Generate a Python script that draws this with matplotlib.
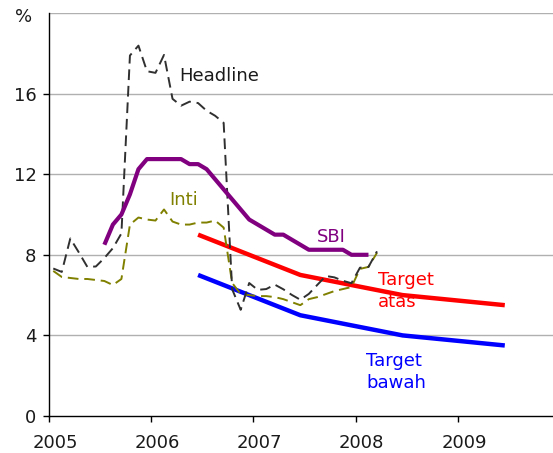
import matplotlib
matplotlib.use("Agg")
import matplotlib.pyplot as plt
import matplotlib.transforms as mtransforms
import numpy as np

# Monthly series, Jan 2005 onward (values in %)
headline = [7.32, 7.15, 8.81, 8.12, 7.40, 7.42, 7.84, 8.33, 9.06, 17.89, 18.38, 17.11,
            17.03, 17.92, 15.74, 15.40, 15.60, 15.53, 15.15, 14.90, 14.55, 6.29, 5.27, 6.60,
            6.26, 6.30, 6.52, 6.29, 6.01, 5.77, 6.06, 6.51, 6.95, 6.88, 6.71, 6.59,
            7.36, 7.40, 8.17]
inti = [7.20, 6.90, 6.85, 6.80, 6.80, 6.75, 6.70, 6.50, 6.80, 9.50, 9.85, 9.75,
        9.70, 10.25, 9.65, 9.50, 9.50, 9.60, 9.60, 9.70, 9.35, 6.60, 6.05, 6.00,
        5.95, 5.95, 5.90, 5.80, 5.65, 5.50, 5.80, 5.90, 6.05, 6.20, 6.30, 6.40,
        7.30, 7.40, 8.10]
# SBI rate, Jul 2005 onward
sbi = [8.50, 9.50, 10.00, 11.00, 12.25, 12.75,
       12.75, 12.75, 12.75, 12.75, 12.50, 12.50, 12.25, 11.75, 11.25, 10.75, 10.25, 9.75,
       9.50, 9.25, 9.00, 9.00, 8.75, 8.50, 8.25, 8.25, 8.25, 8.25, 8.25, 8.00,
       8.00, 8.00]
# Inflation targets (mid-year)
target_years = [2006, 2007, 2008, 2009]
target_atas = [9.0, 7.0, 6.0, 5.5]
target_bawah = [7.0, 5.0, 4.0, 3.5]

xticks = [2005, 2006, 2007, 2008, 2009]
yticks = [0, 4, 8, 12, 16]

def month_pos(start_year, start_month, n):
    return [start_year + (start_month - 1 + i + 0.5) / 12.0 for i in range(n)]

x_head = month_pos(2005, 1, len(headline))
x_inti = month_pos(2005, 1, len(inti))
x_sbi = month_pos(2005, 7, len(sbi))
x_tgt = [y + 5.5 / 12.0 for y in target_years]

fig = plt.figure(figsize=(5.53, 4.53), dpi=100)
ax = fig.add_axes([49 / 553, 37 / 453, 1 - 49 / 553, 403 / 453])

ax.set_xlim(2005, 2009.93)
ax.set_ylim(0, 20)

for g in [4, 8, 12, 16, 20]:
    ax.axhline(g, color='#b0b0b0', lw=1.0, zorder=0)

ax.plot(x_tgt, target_atas, color='#ff0000', lw=3.2, solid_capstyle='butt', zorder=2)
ax.plot(x_tgt, target_bawah, color='#0000ff', lw=3.2, solid_capstyle='butt', zorder=2)
ax.plot(x_inti, inti, color='#808000', lw=1.4, dashes=(5.5, 3), zorder=3)
ax.plot(x_head, headline, color='#303030', lw=1.4, dashes=(5.5, 3), zorder=3)
ax.plot(x_sbi, sbi, color='#800080', lw=3.0, solid_capstyle='butt', zorder=4)

fs = 13
ax.text(2006.27, 16.87, 'Headline', color='#1a1a1a', fontsize=fs, va='center', ha='left')
ax.text(2006.18, 10.7, 'Inti', color='#808000', fontsize=fs, va='center', ha='left')
ax.text(2007.62, 8.9, 'SBI', color='#800080', fontsize=fs, va='center', ha='left')
ax.text(2008.22, 6.2, 'Target\natas', color='#ff0000', fontsize=fs, va='center', ha='left',
        linespacing=1.3)
ax.text(2008.10, 2.2, 'Target\nbawah', color='#0000ff', fontsize=fs, va='center', ha='left',
        linespacing=1.3)

ax.set_xticks(xticks)
ax.set_xticklabels([str(x) for x in xticks])
ax.set_yticks(yticks)
ax.set_yticklabels([str(y) for y in yticks])
ax.tick_params(axis='both', labelsize=fs, length=4, width=1, color='black',
               labelcolor='#1a1a1a')
ax.tick_params(axis='x', pad=9)
ax.tick_params(axis='y', pad=5)
shift = mtransforms.ScaledTranslation(6 / 100, 0, fig.dpi_scale_trans)
for lbl in ax.get_xticklabels():
    lbl.set_transform(lbl.get_transform() + shift)
ax.text(-0.05, 0.99, '%', transform=ax.transAxes, fontsize=fs, ha='center', va='center',
        color='#1a1a1a')

for s in ['top', 'right']:
    ax.spines[s].set_visible(False)
ax.spines['left'].set_color('black')
ax.spines['bottom'].set_color('black')
ax.spines['left'].set_linewidth(1.0)
ax.spines['bottom'].set_linewidth(1.0)

fig.savefig('out.png', dpi=100)
